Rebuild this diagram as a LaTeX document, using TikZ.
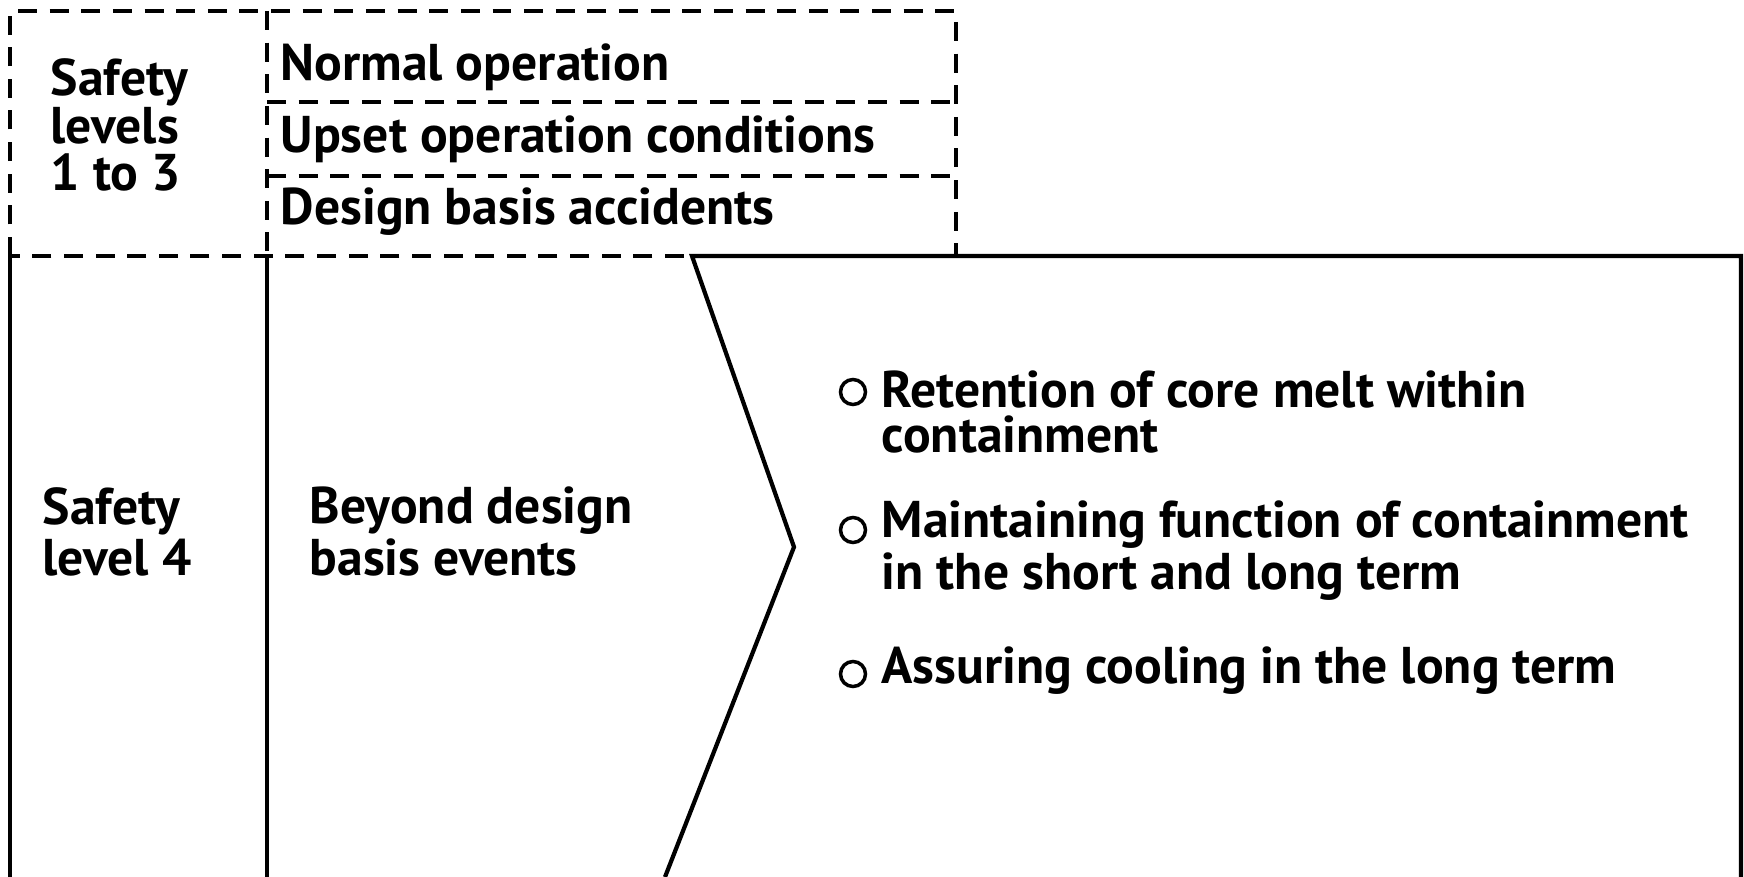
\documentclass[tikz,border=0pt]{standalone}
\usepackage{fontspec}
\setmainfont{PT Sans}
\usetikzlibrary{positioning}
\tikzset{
	lbl/.style={inner sep=0pt,anchor=base west,align=left,font=\bfseries\fontsize{14.7}{12.9}\selectfont},
	frame/.style={line width=1.2pt},
	dframe/.style={line width=1.2pt,dash pattern=on 5.4pt off 3.6pt},
	bullet/.style={circle,draw,line width=1pt,minimum size=2.5mm,inner sep=0pt},
}
\begin{document}
\begin{tikzpicture}[x=0.1mm,y=-0.1mm,line join=miter]
	\useasboundingbox (0,0) rectangle (1744,877);
	% safety levels 1 to 3 (dashed)
	\draw[dframe] (10,256) -- (10,11) -- (956,11) -- (956,256) -- (692,256) -- (10,256);
	\draw[dframe] (267,11) -- (267,256);
	\draw[dframe] (267,102) -- (956,102);
	\draw[dframe] (267,176) -- (956,176);
	% safety level 4
	\draw[frame] (10,256) -- (10,877);
	\draw[frame] (267,256) -- (267,877);
	\draw[frame] (665,877) -- (794,547) -- (692,256) -- (1741,256) -- (1741,877);
	% texts (base = last line)
	\node[lbl,font=\bfseries\fontsize{14.7}{13.6}\selectfont] (lv13) at (50,191) {Safety\\levels\\1 to 3};
	\node[lbl] (normal) at (280,81) {Normal operation};
	\node[lbl] (upset) at (280,153) {Upset operation conditions};
	\node[lbl] (dba) at (280,225) {Design basis accidents};
	\node[lbl] (lv4) at (42,575) {Safety\\level 4};
	\node[lbl] (bdbe) at (309,575) {Beyond design\\basis events};
	\node[lbl] (goal1) at (881,453) {Retention of core melt within\\containment};
	\node[lbl] (goal2) at (881,589) {Maintaining function of containment\\in the short and long term};
	\node[lbl] (goal3) at (881,683) {Assuring cooling in the long term};
	\node[bullet] (b1) at (853,392) {};
	\node[bullet] (b2) at (853,530) {};
	\node[bullet] (b3) at (853,674) {};
\end{tikzpicture}
\end{document}
